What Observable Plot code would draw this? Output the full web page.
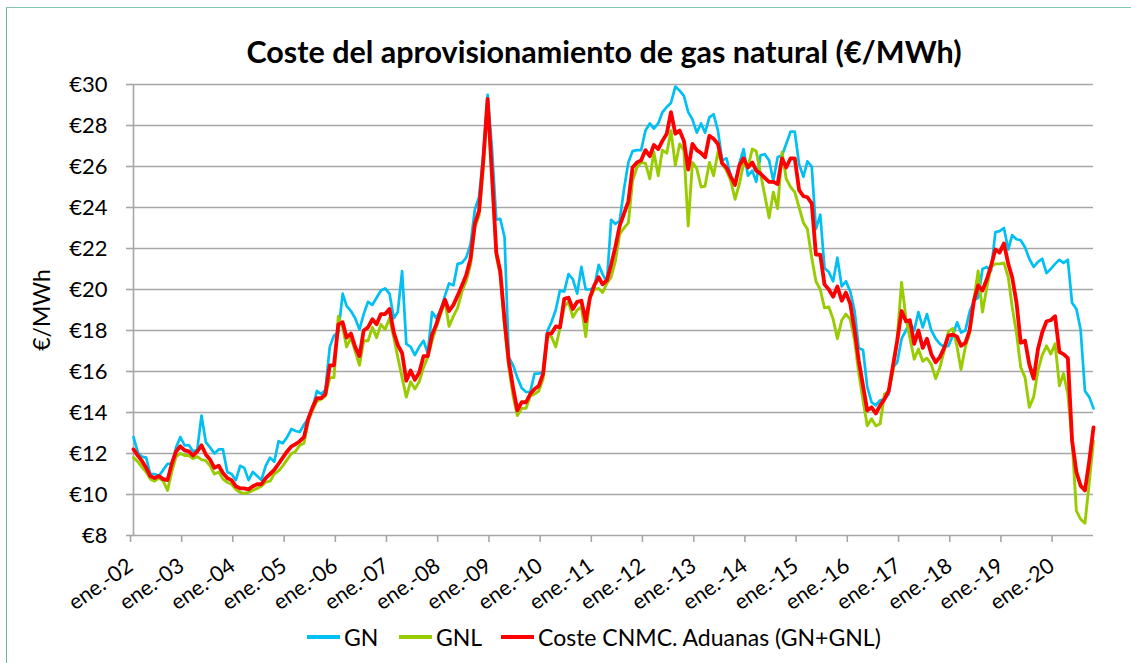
<!DOCTYPE html>
<html><head><meta charset="utf-8">
<script src="https://cdn.jsdelivr.net/npm/d3@7"></script>
<script src="https://cdn.jsdelivr.net/npm/@observablehq/plot@0.6"></script>
<style>
html,body{margin:0;padding:0;background:#fff;}
body{width:1131px;height:663px;overflow:hidden;position:relative;font-family:Lato,"Open Sans",sans-serif;color:#000;}
#frame{position:absolute;left:6px;top:7px;width:1300px;height:800px;border-left:1.5px solid #6db7a2;border-top:1.5px solid #86c6b4;}
#title{position:absolute;left:604px;top:33px;transform:translateX(-50%);white-space:nowrap;font-weight:bold;font-size:30.5px;line-height:36px;}
#ylabel{position:absolute;left:41px;top:310px;transform:translate(-50%,-50%) rotate(-90deg);white-space:nowrap;font-size:23px;line-height:24px;}
#chart{position:absolute;left:0;top:60px;}
.leg{position:absolute;top:624px;height:26px;display:flex;align-items:center;white-space:nowrap;font-size:23px;}
.leg span.sw{display:inline-block;width:33px;height:4px;margin-right:4px;}
</style></head>
<body>
<div id="frame"></div>
<div id="title">Coste del aprovisionamiento de gas natural (€/MWh)</div>
<div id="ylabel">€/MWh</div>
<div id="chart"></div>
<div id="legend"></div>
<script>
const startYear = 2002;
const gn = [
12.8,12.05,11.85,11.8,11.0,11.0,10.9,11.2,11.5,11.5,12.3,12.8,
12.4,12.4,12.1,12.2,13.85,12.55,12.3,12.0,12.2,12.2,11.1,11.0,
10.7,11.4,11.3,10.7,11.1,10.9,10.7,11.4,11.8,11.6,12.6,12.5,
12.8,13.2,13.1,13.05,13.4,13.7,14.2,15.05,14.9,15.1,17.2,17.75,
17.9,19.8,19.2,18.95,18.6,18.05,18.8,19.4,19.25,19.6,19.95,20.05,
19.8,18.6,18.9,20.9,17.35,17.2,16.8,17.2,17.5,16.9,18.9,18.6,
19.0,19.7,20.3,20.2,21.25,21.3,21.55,22.2,23.9,24.5,26.6,29.5,
26.9,23.4,23.45,22.55,16.7,16.3,15.7,15.2,15.0,15.0,15.9,15.9,
15.95,18.0,18.4,19.0,19.95,19.9,20.75,20.5,19.8,21.1,20.0,20.0,
20.1,21.2,20.75,20.35,23.4,23.2,23.35,24.9,26.2,26.75,26.8,26.8,
27.75,28.1,27.85,28.1,28.65,28.9,29.1,29.9,29.7,29.45,28.65,28.3,
27.65,28.1,27.65,28.4,28.55,27.75,26.3,26.4,25.5,25.15,26.15,26.85,
25.55,25.8,25.25,26.55,26.6,26.3,25.3,26.45,26.55,27.1,27.7,27.7,
26.1,25.5,26.25,26.0,22.95,23.65,21.05,20.85,20.4,21.55,20.15,20.4,
19.9,18.95,17.15,17.05,15.25,14.5,14.35,14.6,14.65,14.9,16.2,16.45,
17.6,18.0,18.4,18.0,18.9,18.15,18.8,18.0,17.6,17.35,17.2,17.25,
17.75,18.4,17.9,18.0,18.9,19.45,19.6,21.0,21.1,20.9,22.8,22.85,
23.0,21.95,22.65,22.45,22.4,22.05,21.5,21.1,21.35,21.5,20.8,21.0,
21.25,21.45,21.3,21.45,19.35,19.05,18.05,15.05,14.75,14.2
];
const gnl = [
11.8,11.6,11.35,11.1,10.75,10.65,10.8,10.65,10.2,11.1,11.85,12.0,
11.9,11.9,11.75,11.85,11.7,11.65,11.4,11.0,11.1,10.75,10.6,10.5,
10.25,10.1,10.05,10.1,10.2,10.3,10.4,10.6,10.65,11.0,11.15,11.4,
11.7,12.0,12.1,12.4,12.5,13.6,14.1,14.55,14.65,14.8,15.7,15.7,
18.7,18.15,17.2,17.65,17.0,16.3,17.5,17.5,18.15,17.65,18.3,18.05,
18.6,17.65,16.7,15.7,14.75,15.5,15.15,15.5,16.2,16.7,17.5,18.15,
18.8,19.45,18.2,18.7,19.1,19.9,20.4,21.2,23.05,23.6,26.0,29.1,
25.5,21.65,20.7,18.15,16.2,14.8,13.85,14.2,14.2,14.8,14.9,15.05,
15.65,17.7,17.7,17.2,18.1,19.15,19.4,18.65,19.0,19.15,17.7,19.6,
20.0,20.05,19.85,20.3,20.6,21.4,22.7,23.0,23.25,25.3,25.95,26.2,
26.15,25.4,26.7,25.55,26.8,26.65,27.75,26.05,27.1,26.8,23.1,26.2,
25.9,25.0,25.05,26.2,25.55,26.7,26.15,25.8,25.3,24.4,25.15,26.15,
25.95,26.85,26.75,25.65,24.6,23.5,24.75,23.95,26.7,25.4,25.0,24.75,
24.0,23.25,22.95,21.55,20.4,20.0,19.1,19.15,18.55,17.6,18.5,18.8,
18.55,17.5,15.95,14.6,13.35,13.7,13.35,13.45,14.9,15.0,16.05,17.65,
20.35,18.6,17.65,16.6,17.1,16.5,16.65,16.35,15.65,16.2,17.0,17.95,
18.1,17.2,16.1,17.2,17.85,19.45,20.9,18.9,20.1,21.1,21.25,21.25,
21.3,20.6,19.15,17.85,16.2,15.7,14.25,14.75,16.05,16.8,17.25,16.85,
17.35,15.3,15.9,14.9,12.65,9.2,8.8,8.6,10.6,12.6
];
const coste = [
12.2,11.9,11.65,11.3,10.9,10.8,10.9,10.75,10.7,11.5,12.1,12.35,
12.15,12.1,11.9,12.1,12.4,11.95,11.7,11.3,11.4,11.05,10.8,10.7,
10.4,10.3,10.3,10.25,10.4,10.5,10.5,10.8,11.0,11.2,11.5,11.8,
12.1,12.35,12.45,12.6,12.8,13.7,14.25,14.7,14.7,14.9,16.3,16.3,
18.3,18.4,17.65,17.85,17.2,16.75,18.0,18.15,18.55,18.3,18.8,18.8,
19.05,17.9,17.3,16.9,15.55,16.05,15.6,15.95,16.75,16.75,17.8,18.3,
18.95,19.5,18.95,19.25,19.7,20.2,20.7,21.5,23.2,23.85,26.4,29.3,
25.6,21.8,20.9,18.5,16.5,15.2,14.1,14.5,14.5,14.9,15.15,15.3,
15.9,17.85,17.85,18.2,18.15,19.55,19.6,19.05,19.4,19.45,18.45,19.6,
20.2,20.6,20.25,20.45,21.2,22.1,23.1,23.7,24.3,25.95,26.2,26.3,
26.8,26.5,27.05,26.85,27.25,27.6,28.65,27.6,27.75,27.25,25.85,27.1,
26.8,26.65,26.45,27.5,27.35,27.1,26.15,25.95,25.5,25.1,26.05,26.4,
25.95,26.2,25.8,25.65,25.45,25.25,25.25,25.15,26.4,25.95,26.4,26.4,
24.85,24.55,24.5,24.2,21.7,21.7,20.25,20.0,19.65,20.15,19.45,19.85,
19.3,18.0,16.55,15.3,14.1,14.25,13.95,14.35,14.65,15.05,16.3,17.5,
18.95,18.45,18.5,17.35,18.0,17.15,17.6,16.85,16.45,16.7,17.15,17.75,
17.8,17.7,17.25,17.4,18.0,19.45,20.2,19.95,20.5,21.15,21.95,21.8,
22.25,21.25,20.6,19.35,17.4,17.5,16.35,15.65,17.1,17.9,18.45,18.5,
18.7,16.95,16.85,16.65,12.65,11.1,10.43,10.2,11.65,13.27
];
const seriesNames = ["GN", "GNL", "Coste CNMC. Aduanas (GN+GNL)"];
const seriesColors = ["#00bff3", "#99cc00", "#ff0000"];
const seriesWidths = [2.7, 2.9, 3.8];
const yTicks = [8,10,12,14,16,18,20,22,24,26,28,30];
const xTickLabels = ["ene.-02","ene.-03","ene.-04","ene.-05","ene.-06","ene.-07","ene.-08","ene.-09","ene.-10","ene.-11","ene.-12","ene.-13","ene.-14","ene.-15","ene.-16","ene.-17","ene.-18","ene.-19","ene.-20"];

const date = i => new Date(Date.UTC(startYear, i, 1));
const rows = (arr, name) => arr.map((v, i) => ({date: date(i), value: v, series: name}));
const tickDates = xTickLabels.map((_, k) => date(12 * k));
const labelOf = new Map(tickDates.map((d, k) => [+d, xTickLabels[k]]));
const allSeries = [gn, gnl, coste];

const plot = Plot.plot({
  width: 1131, height: 560,
  marginLeft: 133, marginRight: 38, marginTop: 24, marginBottom: 85,
  x: {type: "utc", domain: [date(0), date(gn.length - 1)]},
  y: {domain: [8, 30]},
  style: {fontFamily: "Lato, sans-serif", fontSize: "21px", color: "#000", background: "transparent", overflow: "visible"},
  marks: [
    Plot.gridY(yTicks, {stroke: "#a6a6a6", strokeOpacity: 1, strokeWidth: 1.6}),
    Plot.axisY(yTicks, {tickSize: 7, tickPadding: 19, tickFormat: d => "€" + d, stroke: "#a6a6a6", strokeOpacity: 1, strokeWidth: 1.6, fontSize: 22, label: null}),
    Plot.ruleX([date(0)], {stroke: "#a6a6a6", strokeWidth: 1.6}),
    Plot.axisX(tickDates, {tickSize: 7, tickPadding: 21, dx: -3, tickRotate: -35, tickFormat: d => labelOf.get(+d), stroke: "#a6a6a6", strokeOpacity: 1, strokeWidth: 1.6, fontSize: 21.5, label: null}),
    ...allSeries.map((arr, k) => Plot.lineY(rows(arr, seriesNames[k]), {x: "date", y: "value", stroke: seriesColors[k], strokeWidth: seriesWidths[k], strokeLinejoin: "round"}))
  ]
});
document.getElementById("chart").appendChild(plot);

const legPos = [307, 399, 501];
const legend = document.getElementById("legend");
seriesNames.forEach((n, k) => {
  const item = document.createElement("div");
  item.className = "leg";
  item.style.left = legPos[k] + "px";
  const sw = document.createElement("span");
  sw.className = "sw";
  sw.style.background = seriesColors[k];
  const tx = document.createElement("span");
  tx.textContent = n;
  item.appendChild(sw); item.appendChild(tx);
  legend.appendChild(item);
});
</script>
</body></html>
